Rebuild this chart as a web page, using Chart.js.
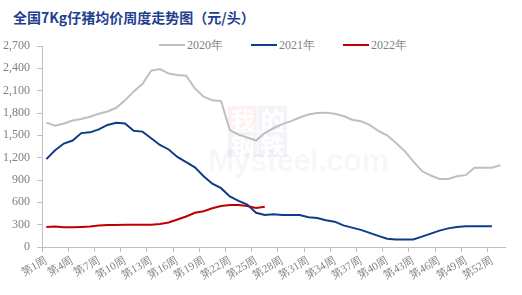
<!DOCTYPE html>
<html>
<head>
<meta charset="utf-8">
<script src="https://cdn.jsdelivr.net/npm/chart.js@4.4.1/dist/chart.umd.min.js"></script>
<style>
  html, body { margin: 0; padding: 0; background: #fff; }
  #wrap { position: relative; width: 522px; height: 295px; overflow: hidden; }
  #title { position: absolute; left: 13px; top: 7px; font: bold 14px "Noto Sans CJK SC", sans-serif; color: #1f3f8f; white-space: nowrap; line-height: 20px; }
  #legend { position: absolute; left: 159px; top: 37px; display: flex; font: 12px "Liberation Serif", serif; color: #7f7f7f; line-height: 16px; }
  .item { display: flex; align-items: center; margin-right: 28px; }
  .sw { width: 26px; height: 2px; margin-right: 2px; }
  #wm { position: absolute; left: 0; top: 0; width: 522px; height: 295px; z-index: 0; }
  #wm .c { position: absolute; width: 29px; height: 25px; font: bold 24px "Noto Sans CJK SC", sans-serif; line-height: 25px; text-align: center; color: #fff; }
  #wm .m { position: absolute; left: 208px; top: 143px; font: bold 31px "Liberation Sans", sans-serif; color: rgba(0,0,0,0.04); letter-spacing: -0.5px; }
  canvas { position: absolute; left: 0; top: 0; z-index: 1; }
</style>
</head>
<body>
<div id="wrap">
  <div id="wm">
    <div class="c" style="left:228px;top:106px;background:rgba(220,60,60,0.08)">我</div>
    <div class="c" style="left:258px;top:106px;background:rgba(40,70,150,0.06)">的</div>
    <div class="c" style="left:228px;top:132px;background:rgba(40,70,150,0.06)">钢</div>
    <div class="c" style="left:258px;top:132px;background:rgba(40,70,150,0.06)">铁</div>
    <div class="m">Mysteel.com</div>
  </div>
  <canvas id="c" width="522" height="295"></canvas>
  <div id="title">全国7Kg仔猪均价周度走势图（元/头）</div>
  <div id="legend">
    <div class="item"><span class="sw" style="background:#bfbfbf"></span>2020年</div>
    <div class="item"><span class="sw" style="background:#0e3b8a"></span>2021年</div>
    <div class="item"><span class="sw" style="background:#c00000"></span>2022年</div>
  </div>
</div>
<script>
const weeks = ['第1周','第2周','第3周','第4周','第5周','第6周','第7周','第8周','第9周','第10周',
  '第11周','第12周','第13周','第14周','第15周','第16周','第17周','第18周','第19周','第20周',
  '第21周','第22周','第23周','第24周','第25周','第26周','第27周','第28周','第29周','第30周',
  '第31周','第32周','第33周','第34周','第35周','第36周','第37周','第38周','第39周','第40周',
  '第41周','第42周','第43周','第44周','第45周','第46周','第47周','第48周','第49周','第50周',
  '第51周','第52周','第53周'];

const price2020 = [1670,1630,1660,1700,1720,1750,1790,1820,1870,1970,
  2090,2190,2370,2390,2330,2310,2300,2130,2020,1970,
  1960,1570,1510,1470,1430,1530,1595,1650,1690,1740,
  1780,1800,1805,1790,1760,1710,1690,1640,1560,1500,
  1400,1290,1150,1020,960,913,913,950,965,1065,
  1065,1065,1100];

const price2021 = [1180,1300,1390,1430,1530,1540,1580,1640,1670,1660,
  1560,1550,1460,1370,1310,1210,1140,1070,950,850,
  790,680,620,570,460,430,440,430,430,430,
  400,390,360,340,290,260,230,190,150,110,
  100,100,100,140,180,220,250,270,280,280,
  280,280,null];

const price2022 = [270,275,265,265,270,275,290,295,295,300,
  300,300,300,310,330,370,410,460,480,520,
  550,565,565,550,525,540];

const yTicks = { min: 0, max: 2700, step: 300 };

const axisGray = '#bfbfbf';
const labelGray = '#808080';

new Chart(document.getElementById('c'), {
  type: 'line',
  data: {
    labels: weeks,
    datasets: [
      { label: '2020年', data: price2020, borderColor: '#bfbfbf', borderWidth: 2, pointRadius: 0, tension: 0 },
      { label: '2021年', data: price2021, borderColor: '#0e3b8a', borderWidth: 2, pointRadius: 0, tension: 0 },
      { label: '2022年', data: price2022, borderColor: '#c00000', borderWidth: 2, pointRadius: 0, tension: 0 }
    ]
  },
  options: {
    responsive: false,
    animation: false,
    devicePixelRatio: 1,
    layout: { padding: { top: 46, left: 0, right: 17, bottom: 0 } },
    plugins: { legend: { display: false }, title: { display: false }, tooltip: { enabled: false } },
    scales: {
      x: {
        offset: true,
        grid: {
          offset: true,
          drawOnChartArea: false,
          drawTicks: true,
          tickLength: 5,
          color: (ctx) => (ctx.index % 3 === 0 ? axisGray : 'rgba(0,0,0,0)')
        },
        border: { display: true, color: axisGray, width: 1 },
        ticks: {
          autoSkip: false,
          minRotation: 30,
          maxRotation: 30,
          padding: 2,
          color: labelGray,
          font: { family: '"Liberation Serif", serif', size: 11 },
          callback: function (val, idx) { return idx % 3 === 0 ? this.getLabelForValue(val) : ''; }
        },
        afterFit: (s) => { s.height = 48; }
      },
      y: {
        min: yTicks.min,
        max: yTicks.max,
        grid: { drawOnChartArea: false, drawTicks: true, tickLength: 5, color: axisGray },
        border: { display: true, color: axisGray, width: 1 },
        ticks: {
          stepSize: yTicks.step,
          padding: 7,
          color: labelGray,
          font: { family: '"Liberation Serif", serif', size: 12 },
          callback: (v) => v.toLocaleString('en-US')
        },
        afterFit: (s) => { s.width = 42; }
      }
    }
  }
});
</script>
</body>
</html>
